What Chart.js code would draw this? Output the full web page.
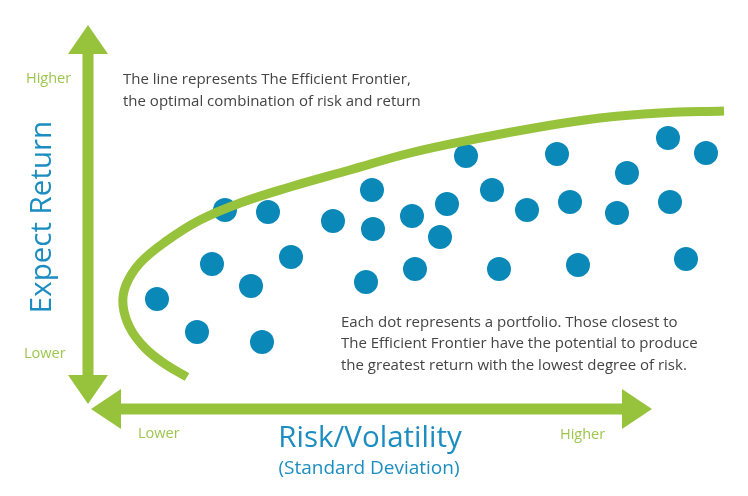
<!DOCTYPE html>
<html>
<head>
<meta charset="utf-8">
<script src="https://cdn.jsdelivr.net/npm/chart.js@4.4.1/dist/chart.umd.min.js"></script>
<style>
  html, body { margin: 0; padding: 0; background: #fff; }
  #chart { display: block; }
</style>
</head>
<body>
<canvas id="chart" width="748" height="496"></canvas>
<script>
// portfolios: risk (x) and return (y), measured from the arrows' corner
const portfolioRisk = [135, 178, 122, 201, 161, 67, 107, 172, 243, 282, 283, 322, 357, 350, 276, 325,
                       376, 402, 437, 467, 480, 409, 488, 537, 527, 578, 616, 580, 596];
const portfolioReturn = [195, 193, 141, 148, 119, 106, 73, 63, 184, 215, 176, 189, 201, 168, 123, 136,
                         249, 215, 195, 251, 203, 136, 140, 232, 192, 267, 252, 203, 146];

// the efficient frontier
const frontierRisk = [634, 570, 510, 450, 385, 320, 260, 200, 150, 110, 75, 50, 36, 33, 40, 55, 75, 97];
const frontierReturn = [294, 292, 287, 278, 266, 252, 235, 218, 202, 185, 163, 142, 120, 100, 77, 57, 41, 28];

const GREEN = '#97c33c';
const LIGHT_GREEN = '#9dc64e';
const BLUE = '#0a88b8';
const TITLE_BLUE = '#1c8dc0';
const TEXT = '#444';
const FONT = '"Open Sans", "Noto Sans", sans-serif';

const decorations = {
    id: 'decorations',
    afterDraw(chart) {
        const ctx = chart.ctx;
        ctx.save();
        ctx.fillStyle = GREEN;

        // vertical arrow (Return)
        ctx.fillRect(82.5, 53, 11, 323);
        ctx.beginPath();
        ctx.moveTo(88, 25); ctx.lineTo(108, 54); ctx.lineTo(68, 54); ctx.closePath();
        ctx.fill();
        ctx.beginPath();
        ctx.moveTo(88, 404); ctx.lineTo(108, 375); ctx.lineTo(68, 375); ctx.closePath();
        ctx.fill();

        // horizontal arrow (Risk)
        ctx.fillRect(120, 403.5, 503, 11);
        ctx.beginPath();
        ctx.moveTo(91, 409); ctx.lineTo(121, 389); ctx.lineTo(121, 429); ctx.closePath();
        ctx.fill();
        ctx.beginPath();
        ctx.moveTo(652, 409); ctx.lineTo(622, 389); ctx.lineTo(622, 429); ctx.closePath();
        ctx.fill();

        ctx.textBaseline = 'middle';

        // axis ends
        ctx.fillStyle = LIGHT_GREEN;
        ctx.font = '14.5px ' + FONT;
        ctx.textAlign = 'left';
        ctx.fillText('Higher', 26, 79);
        ctx.fillText('Lower', 24, 354);
        ctx.fillText('Lower', 138, 434);
        ctx.fillText('Higher', 560, 435);

        // axis titles
        ctx.fillStyle = TITLE_BLUE;
        ctx.textAlign = 'center';
        ctx.font = '29.5px ' + FONT;
        ctx.fillText('Risk/Volatility', 370, 439);
        ctx.font = '19px ' + FONT;
        ctx.fillText('(Standard Deviation)', 369, 469);
        ctx.save();
        ctx.translate(43, 217);
        ctx.rotate(-Math.PI / 2);
        ctx.font = '29.5px ' + FONT;
        ctx.fillText('Expect Return', 0, 0);
        ctx.restore();

        // notes
        ctx.fillStyle = TEXT;
        ctx.textAlign = 'left';
        ctx.font = '15px ' + FONT;
        ctx.fillText('The line represents The Efficient Frontier,', 123, 80);
        ctx.fillText('the optimal combination of risk and return', 123, 102);
        ctx.fillText('Each dot represents a portfolio. Those closest to', 341, 323);
        ctx.fillText('The Efficient Frontier have the potential to produce', 341, 344);
        ctx.fillText('the greatest return with the lowest degree of risk.', 341, 366);

        ctx.restore();
    }
};

new Chart(document.getElementById('chart'), {
    type: 'scatter',
    data: {
        datasets: [
            {
                type: 'line',
                data: frontierRisk.map((x, i) => ({ x, y: frontierReturn[i] })),
                borderColor: GREEN,
                borderWidth: 9,
                borderCapStyle: 'butt',
                pointRadius: 0,
                tension: 0.4,
                fill: false,
                order: 0
            },
            {
                data: portfolioRisk.map((x, i) => ({ x, y: portfolioReturn[i] })),
                backgroundColor: BLUE,
                borderWidth: 0,
                pointRadius: 12,
                order: 1
            }
        ]
    },
    options: {
        responsive: false,
        animation: false,
        layout: { padding: 0, autoPadding: false },
        plugins: { legend: { display: false }, tooltip: { enabled: false } },
        scales: {
            x: { type: 'linear', display: false, min: -90, max: 658 },
            y: { type: 'linear', display: false, min: -91, max: 405 }
        }
    },
    plugins: [decorations]
});
</script>
</body>
</html>
